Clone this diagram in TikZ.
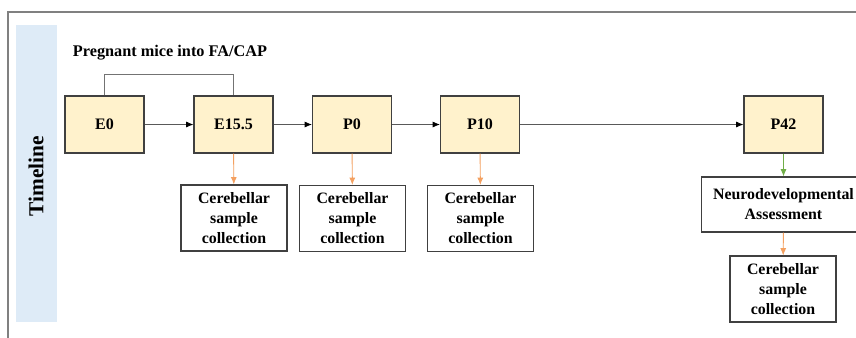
\documentclass[tikz,border=0pt]{standalone}
\usepackage{fontspec}
\setmainfont{Liberation Serif}
\usetikzlibrary{arrows.meta}
\definecolor{boxfill}{HTML}{FFF2CC}
\definecolor{boxline}{HTML}{404040}
\definecolor{band}{HTML}{DEEBF7}
\definecolor{orangearr}{HTML}{F4A060}
\definecolor{greenarr}{HTML}{70AD47}
\definecolor{frameline}{HTML}{808080}
\tikzset{
  stage/.style={draw=boxline, fill=boxfill, line width=0.8pt, minimum width=59.25pt, minimum height=42.75pt, inner sep=0pt, font=\fontsize{12}{15}\selectfont\bfseries},
  sample/.style={draw=boxline, fill=white, line width=0.8pt, minimum width=79.5pt, minimum height=49.5pt, inner sep=0pt, align=center, font=\fontsize{11.9}{15}\selectfont\bfseries},
  flow/.style={draw=black!65, line width=0.6pt, -{Latex[length=5.5pt,width=4.5pt,black]}},
  sampflow/.style={draw=orangearr, line width=0.7pt, -{Latex[length=5.5pt,width=4.5pt]}},
  assessflow/.style={draw=greenarr, line width=0.7pt, -{Latex[length=5.5pt,width=4.5pt]}},
}
\begin{document}
\begin{tikzpicture}[x=0.75pt, y=-0.75pt]
\clip (0,0) rectangle (856,337);
\fill[white] (0,0) rectangle (856,337);
\draw[frameline, line width=1pt] (8,400) -- (8,12) -- (900,12);
\fill[band] (16,25) rectangle (57,322);
\node[rotate=90, font=\fontsize{16}{18}\selectfont\bfseries] (tl) at (36,176) {Timeline};
\node[font=\fontsize{12.2}{15}\selectfont\bfseries] (preg) at (170,53) {Pregnant mice into FA/CAP};
\node[stage] (e0) at (104.5,124.5) {E0};
\node[stage] (e15) at (233.5,124.5) {E15.5};
\node[stage] (p0) at (352,124.5) {P0};
\node[stage] (p10) at (480,124.5) {P10};
\node[stage] (p42) at (783.5,124.5) {P42};
\node[sample] (c1) at (234,218) {Cerebellar\\sample\\collection};
\node[sample] (c2) at (352.5,218.5) {Cerebellar\\sample\\collection};
\node[sample] (c3) at (480.5,218.5) {Cerebellar\\sample\\collection};
\node[sample, minimum width=123pt, minimum height=41.25pt] (na) at (783.5,204.5) {Neurodevelopmental\\Assessment};
\node[sample] (c4) at (783,289) {Cerebellar\\sample\\collection};
\draw[black!55, line width=0.7pt] (e0.north) -- ++(0,-21) -| (e15.north);
\draw[flow] (e0) -- (e15);
\draw[flow] (e15) -- (p0);
\draw[flow] (p0) -- (p10);
\draw[flow] (p10) -- (p42);
\draw[sampflow] (e15) -- (c1);
\draw[sampflow] (p0) -- (c2);
\draw[sampflow] (p10) -- (c3);
\draw[assessflow] (p42) -- (na);
\draw[sampflow] (na) -- (c4);
\end{tikzpicture}
\end{document}
